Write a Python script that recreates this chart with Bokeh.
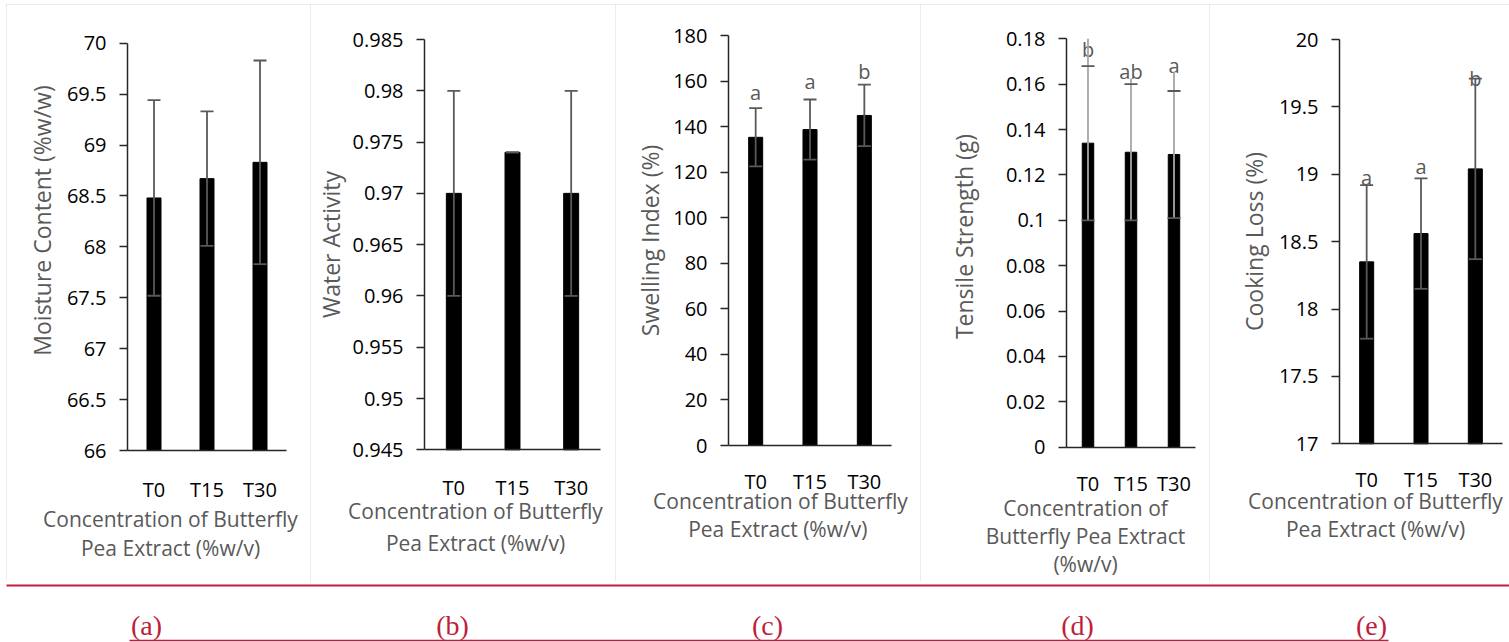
from math import pi

from bokeh.core.properties import value
from bokeh.embed import file_html
from bokeh.layouts import column, row
from bokeh.models import (ColumnDataSource, FixedTicker, LinearAxis,
                          NumeralTickFormatter, Range1d, Spacer, TeeHead, Whisker)
from bokeh.plotting import figure
from bokeh.resources import INLINE

# ---------------------------------------------------------------- data
treatments = ["T0", "T15", "T30"]

# (a) moisture content, %w/w (mean, SD)
moisture = [68.48, 68.67, 68.83]
moisture_sd = [0.96, 0.66, 1.00]
moisture_ticks = [66, 66.5, 67, 67.5, 68, 68.5, 69, 69.5, 70]

# (b) water activity
water_activity = [0.970, 0.974, 0.970]
water_activity_sd = [0.010, 0.0, 0.010]
water_activity_ticks = [0.945, 0.95, 0.955, 0.96, 0.965, 0.97, 0.975, 0.98, 0.985]

# (c) swelling index, %
swelling = [135.3, 138.7, 144.9]
swelling_sd = [12.8, 13.2, 13.5]
swelling_groups = ["a", "a", "b"]
swelling_group_at = [155.0, 160.0, 164.2]
swelling_ticks = [0, 20, 40, 60, 80, 100, 120, 140, 160, 180]

# (d) tensile strength, g
tensile = [0.134, 0.130, 0.129]
tensile_sd = [0.034, 0.030, 0.028]
tensile_groups = ["b", "ab", "a"]
tensile_group_at = [0.1754, 0.1655, 0.1684]
tensile_stem_top = [0.180, 0.1625, 0.1654]
tensile_ticks = [0, 0.02, 0.04, 0.06, 0.08, 0.1, 0.12, 0.14, 0.16, 0.18]

# (e) cooking loss, %
cooking = [18.35, 18.56, 19.04]
cooking_sd = [0.57, 0.41, 0.67]
cooking_groups = ["a", "a", "b"]
cooking_group_at = [18.976, 19.058, 19.714]
cooking_ticks = [17, 17.5, 18, 18.5, 19, 19.5, 20]

panel_tags = ["(a)", "(b)", "(c)", "(d)", "(e)"]

# ---------------------------------------------------------------- style
FONT = "Open Sans"
INK = "#262626"
TITLE_GREY = "#595959"
ERR_GREY = "#595959"
STEM_GREY = "#A6A6A6"
RED = "#BE1E3C"
PANEL_CSS = ":host { outline: 1.5px solid #D9D9D9; outline-offset: -1.5px; }"


def tee():
    return TeeHead(size=13, line_color=ERR_GREY, line_width=1.8)


def build_panel(values, sds, ticks, y_title, x_title_lines, size, plot_box,
                y_title_at, x_title_at, x_label_gap, bar_width,
                groups=None, group_at=None, stem_top=None):
    """One bordered chart panel.  The frame fills the whole panel; the
    axes sit at fixed locations inside it so that the titles can live
    in the same drawing area."""
    W, H = size
    left, right, top, bottom = plot_box          # plot area, panel pixels
    y_lo, y_hi = ticks[0], ticks[-1]
    n = len(treatments)
    cat_px = (right - left) / n
    unit_px = (bottom - top) / (y_hi - y_lo)

    def dx(px):
        return (px - left) / cat_px

    def dy(py):
        return y_hi - (py - top) / unit_px

    p = figure(width=W, height=H, title=None,
               x_range=Range1d(dx(0), dx(W)), y_range=Range1d(dy(H), dy(0)),
               x_axis_location=None, y_axis_location=None, min_border=0,
               background_fill_color="white", border_fill_color="white",
               outline_line_color=None, output_backend="svg",
               toolbar_location=None, stylesheets=[PANEL_CSS])
    p.xgrid.grid_line_color = None
    p.ygrid.grid_line_color = None

    x_pos = [i + 0.5 for i in range(n)]

    # value axis
    yax = LinearAxis(fixed_location=0, bounds=(y_lo, y_hi),
                     ticker=FixedTicker(ticks=ticks),
                     formatter=NumeralTickFormatter(format="0.[000]"))
    yax.axis_line_color = INK
    yax.axis_line_width = 1.5
    yax.major_tick_line_color = INK
    yax.major_tick_line_width = 1.5
    yax.major_tick_out = 8
    yax.major_tick_in = 0
    yax.minor_tick_line_color = None
    yax.major_label_text_font = FONT
    yax.major_label_text_font_size = "20px"
    yax.major_label_text_color = "black"
    yax.major_label_standoff = 13
    p.add_layout(yax, "left")

    # category axis
    xax = LinearAxis(fixed_location=y_lo, bounds=(0, n),
                     ticker=FixedTicker(ticks=x_pos),
                     major_label_overrides=dict(zip(x_pos, treatments)))
    xax.axis_line_color = INK
    xax.axis_line_width = 1.5
    xax.major_tick_line_color = None
    xax.minor_tick_line_color = None
    xax.major_tick_out = 0
    xax.major_tick_in = 0
    xax.major_label_text_font = FONT
    xax.major_label_text_font_size = "20px"
    xax.major_label_text_color = "black"
    xax.major_label_standoff = x_label_gap
    p.add_layout(xax, "below")

    src = ColumnDataSource(dict(
        x=x_pos, top=values,
        upper=[v + s for v, s in zip(values, sds)],
        lower=[v - s for v, s in zip(values, sds)],
    ))
    p.vbar(x="x", top="top", bottom=y_lo, width=bar_width, source=src,
           fill_color="black", line_color="black")

    if stem_top is None:
        p.add_layout(Whisker(source=src, base="x", upper="upper", lower="lower",
                             level="overlay", line_color=ERR_GREY, line_width=1.8,
                             upper_head=tee(), lower_head=tee()))
    else:
        src.data["stem"] = stem_top
        p.add_layout(Whisker(source=src, base="x", upper="stem", lower="lower",
                             level="overlay", line_color=STEM_GREY, line_width=1.8,
                             upper_head=None, lower_head=None))
        p.add_layout(Whisker(source=src, base="x", upper="upper", lower="lower",
                             level="overlay", line_alpha=0,
                             upper_head=tee(), lower_head=tee()))

    if groups is not None:
        p.text(x=x_pos, y=group_at, text=groups,
               text_font=value(FONT), text_font_size="20px",
               text_color=TITLE_GREY, text_align="center",
               text_baseline="middle")

    # axis titles
    p.text(x=[dx(y_title_at[0])], y=[dy(y_title_at[1])], text=[y_title],
           angle=pi / 2, text_font=value(FONT), text_font_size="23px",
           text_color=TITLE_GREY, text_align="center", text_baseline="middle")
    cx, rows_y = x_title_at
    p.text(x=[dx(cx)] * len(x_title_lines), y=[dy(v) for v in rows_y],
           text=x_title_lines, text_font=value(FONT), text_font_size="21px",
           text_color=TITLE_GREY, text_align="center", text_baseline="middle")
    return p


X_TITLE = ["Concentration of Butterfly", "Pea Extract (%w/v)"]

pa = build_panel(moisture, moisture_sd, moisture_ticks,
                 "Moisture Content (%w/w)", X_TITLE,
                 size=(304, 576), plot_box=(121, 280, 38.7, 446),
                 y_title_at=(35, 216), x_title_at=(164, (514, 543)),
                 x_label_gap=25, bar_width=0.264)

pb = build_panel(water_activity, water_activity_sd, water_activity_ticks,
                 "Water Activity", X_TITLE,
                 size=(305, 579), plot_box=(114, 290, 35, 445.3),
                 y_title_at=(20, 240), x_title_at=(165, (506, 538)),
                 x_label_gap=24, bar_width=0.255)

pc = build_panel(swelling, swelling_sd, swelling_ticks,
                 "Swelling Index (%)",
                 ["Concentration of Butterfly", "Pea Extract  (%w/v)"],
                 size=(305, 577), plot_box=(113, 276, 31, 441),
                 y_title_at=(34, 236), x_title_at=(165, (496, 524)),
                 x_label_gap=22, bar_width=0.258,
                 groups=swelling_groups, group_at=swelling_group_at)

pd_ = build_panel(tensile, tensile_sd, tensile_ticks,
                  "Tensile Strength (g)",
                  ["Concentration of", "Butterfly Pea Extract", "(%w/v)"],
                  size=(289, 577), plot_box=(146, 275, 34.3, 442.7),
                  y_title_at=(43, 232), x_title_at=(165, (503, 531, 559)),
                  x_label_gap=23, bar_width=0.267,
                  groups=tensile_groups, group_at=tensile_group_at,
                  stem_top=tensile_stem_top)

pe = build_panel(cooking, cooking_sd, cooking_ticks,
                 "Cooking Loss (%)", X_TITLE,
                 size=(300, 577), plot_box=(130, 293, 35, 439.3),
                 y_title_at=(44, 237), x_title_at=(166, (496, 524)),
                 x_label_gap=22, bar_width=0.258,
                 groups=cooking_groups, group_at=cooking_group_at)

# ---------------------------------------------------------------- caption strip
CAP_H = 59
cap = figure(width=1509, height=CAP_H, title=None,
             x_range=Range1d(0, 1509), y_range=Range1d(CAP_H, 0),
             min_border=0, x_axis_location=None, y_axis_location=None,
             background_fill_color="white", border_fill_color="white",
             outline_line_color=None, output_backend="svg", toolbar_location=None)
cap.xgrid.grid_line_color = None
cap.ygrid.grid_line_color = None
cap.segment(x0=6, y0=2, x1=1509, y1=2, line_color=RED, line_width=2)
cap.segment(x0=129, y0=57, x1=1388, y1=57, line_color=RED, line_width=1.5)
cap.text(x=[146, 452, 767, 1077, 1371], y=[42] * 5, text=panel_tags,
         text_font=value("Liberation Serif"), text_font_size="28px",
         text_color=RED, text_align="center", text_baseline="middle")

layout = column(
    Spacer(width=1509, height=4),
    row(Spacer(width=6, height=579), pa, pb, pc, pd_, pe),
    cap,
)

open("out.html", "w").write(file_html(layout, INLINE))
